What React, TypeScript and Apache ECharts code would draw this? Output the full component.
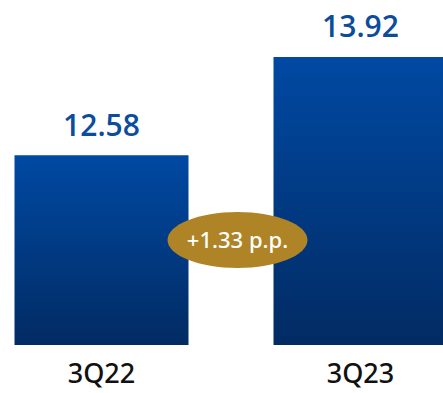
import React, { useEffect, useRef } from "react";
import * as echarts from "echarts";

const categories = ["3Q22", "3Q23"];
const values = [12.58, 13.92];
const changeLabel = "+1.33 p.p.";

// the plot is wider than the page so that the second bar runs off its right edge
const OFFSET_X = 28.5;
const CHART_W = 518;

export default function App() {
  const ref = useRef<HTMLDivElement>(null);

  useEffect(() => {
    if (!ref.current) return;
    const chart = echarts.init(ref.current, null, { renderer: "svg" });
    chart.setOption({
      animation: false,
      grid: { left: 0, right: 0, top: 14.25, bottom: 48, containLabel: false },
      xAxis: {
        type: "category",
        data: categories,
        axisLine: { show: false },
        axisTick: { show: false },
        axisLabel: {
          color: "#111",
          fontSize: 27,
          fontWeight: 500,
          fontFamily: "Noto Sans",
          margin: 14,
        },
      },
      yAxis: {
        type: "value",
        min: 10,
        max: 14.5,
        show: false,
        splitLine: { show: false },
      },
      series: [
        {
          type: "bar",
          data: values,
          barWidth: 174,
          itemStyle: {
            color: new echarts.graphic.LinearGradient(0, 0, 0, 1, [
              { offset: 0, color: "#0049a3" },
              { offset: 1, color: "#022b63" },
            ]),
          },
          label: {
            show: true,
            position: "top",
            distance: 15,
            color: "#0b4d9b",
            fontSize: 30,
            fontWeight: 600,
            fontFamily: "Open Sans",
            lineHeight: 32,
            formatter: (p: any) => p.value.toFixed(2),
          },
        },
      ],
      graphic: [
        {
          type: "group",
          x: 237 + OFFSET_X,
          y: 240,
          z: 100,
          children: [
            {
              type: "ellipse",
              z: 100,
              shape: { cx: 0, cy: 0, rx: 70, ry: 28 },
              style: { fill: "#ae8427" },
            },
            {
              type: "text",
              z: 101,
              x: 0,
              y: -1,
              style: {
                text: changeLabel,
                fill: "#ffffff",
                fontSize: 22,
                fontWeight: 500,
                fontFamily: "Noto Sans",
                align: "center",
                verticalAlign: "middle",
              },
            },
          ],
        },
      ],
    });
    return () => chart.dispose();
  }, []);

  return (
    <div
      style={{
        position: "fixed",
        left: 0,
        top: 0,
        width: 443,
        height: 393,
        overflow: "hidden",
        background: "#fff",
      }}
    >
      <div
        ref={ref}
        style={{ position: "absolute", left: -OFFSET_X, top: 0, width: CHART_W, height: 393 }}
      />
    </div>
  );
}
